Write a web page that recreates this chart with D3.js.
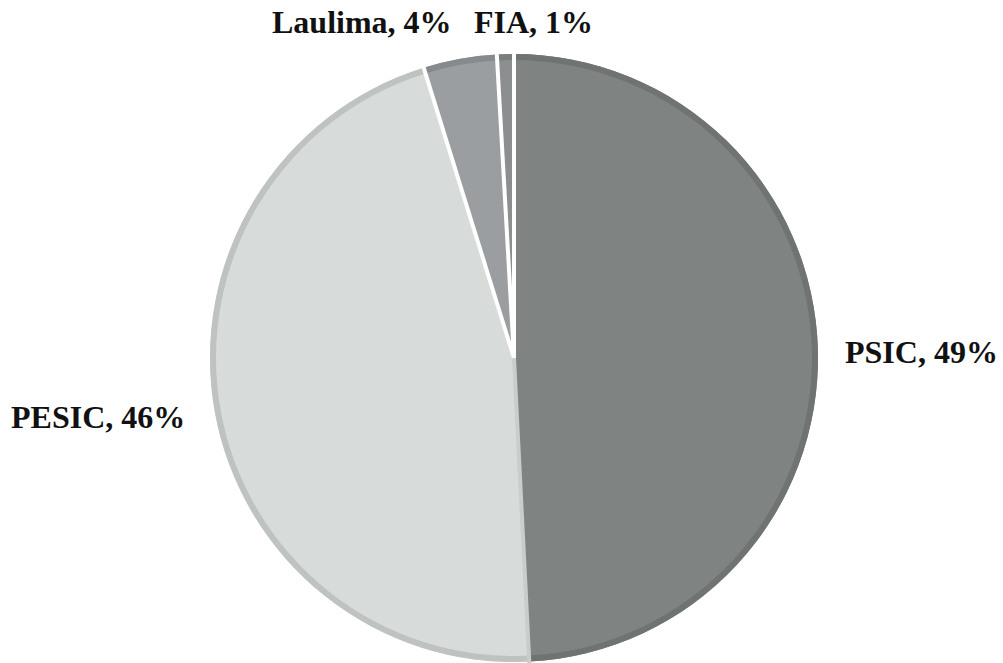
<!DOCTYPE html>
<html>
<head>
<meta charset="utf-8">
<script src="https://cdn.jsdelivr.net/npm/d3@7"></script>
<style>
    body { margin: 0; background: #ffffff; }
    text { font-family: "Liberation Serif", "Times New Roman", serif; font-weight: bold; }
</style>
</head>
<body>
<script>
// data
var names = ["PSIC", "PESIC", "Laulima", "FIA"];
var shares = [49.2, 46.0, 3.9, 0.9];
var labelText = ["49%", "46%", "4%", "1%"];

var fills = ["#7f8382", "#d7dbda", "#9b9ea0", "#8c8f90"];
var rims = ["#6f7372", "#bec2c1", "#878a8c", "#7a7d7e"];
var gapColors = ["#ffffff", "#c9cdcc", "#ffffff", "#ffffff"];

var width = 1003,
    height = 663;
var cx = 514,
    cy = 358,
    radius = 304;

// where each label sits (anchor point, left aligned)
var labelPos = [
    [845, 363],
    [11, 428],
    [272, 33],
    [474, 33]
];

var svg = d3.select("body")
    .append("svg")
    .attr("width", width)
    .attr("height", height);

var pie = d3.pie()
    .sort(null)
    .value(function(d) {
        return d;
    });

var arcs = pie(shares);

var arcFull = d3.arc()
    .innerRadius(0)
    .outerRadius(radius);

var arcRim = d3.arc()
    .innerRadius(radius - 6)
    .outerRadius(radius);

var g = svg.append("g")
    .attr("transform", "translate(" + cx + "," + cy + ")");

g.selectAll(".slice")
    .data(arcs)
    .enter().append("path")
    .attr("class", "slice")
    .attr("d", arcFull)
    .style("fill", function(d, i) {
        return fills[i];
    });

// darker band along the outer edge
g.selectAll(".rim")
    .data(arcs)
    .enter().append("path")
    .attr("class", "rim")
    .attr("d", arcRim)
    .style("fill", function(d, i) {
        return rims[i];
    });

// gaps between slices
g.selectAll(".gap")
    .data(arcs)
    .enter().append("line")
    .attr("class", "gap")
    .attr("x1", 0)
    .attr("y1", 0)
    .attr("x2", function(d) {
        return Math.sin(d.startAngle) * (radius + 2);
    })
    .attr("y2", function(d) {
        return -Math.cos(d.startAngle) * (radius + 2);
    })
    .style("stroke", function(d, i) {
        return gapColors[i];
    })
    .style("stroke-width", 4);

svg.selectAll(".label")
    .data(names)
    .enter().append("text")
    .attr("class", "label")
    .attr("x", function(d, i) {
        return labelPos[i][0];
    })
    .attr("y", function(d, i) {
        return labelPos[i][1];
    })
    .style("font-size", "32px")
    .style("fill", "#111111")
    .text(function(d, i) {
        return d + ", " + labelText[i];
    });
</script>
</body>
</html>
